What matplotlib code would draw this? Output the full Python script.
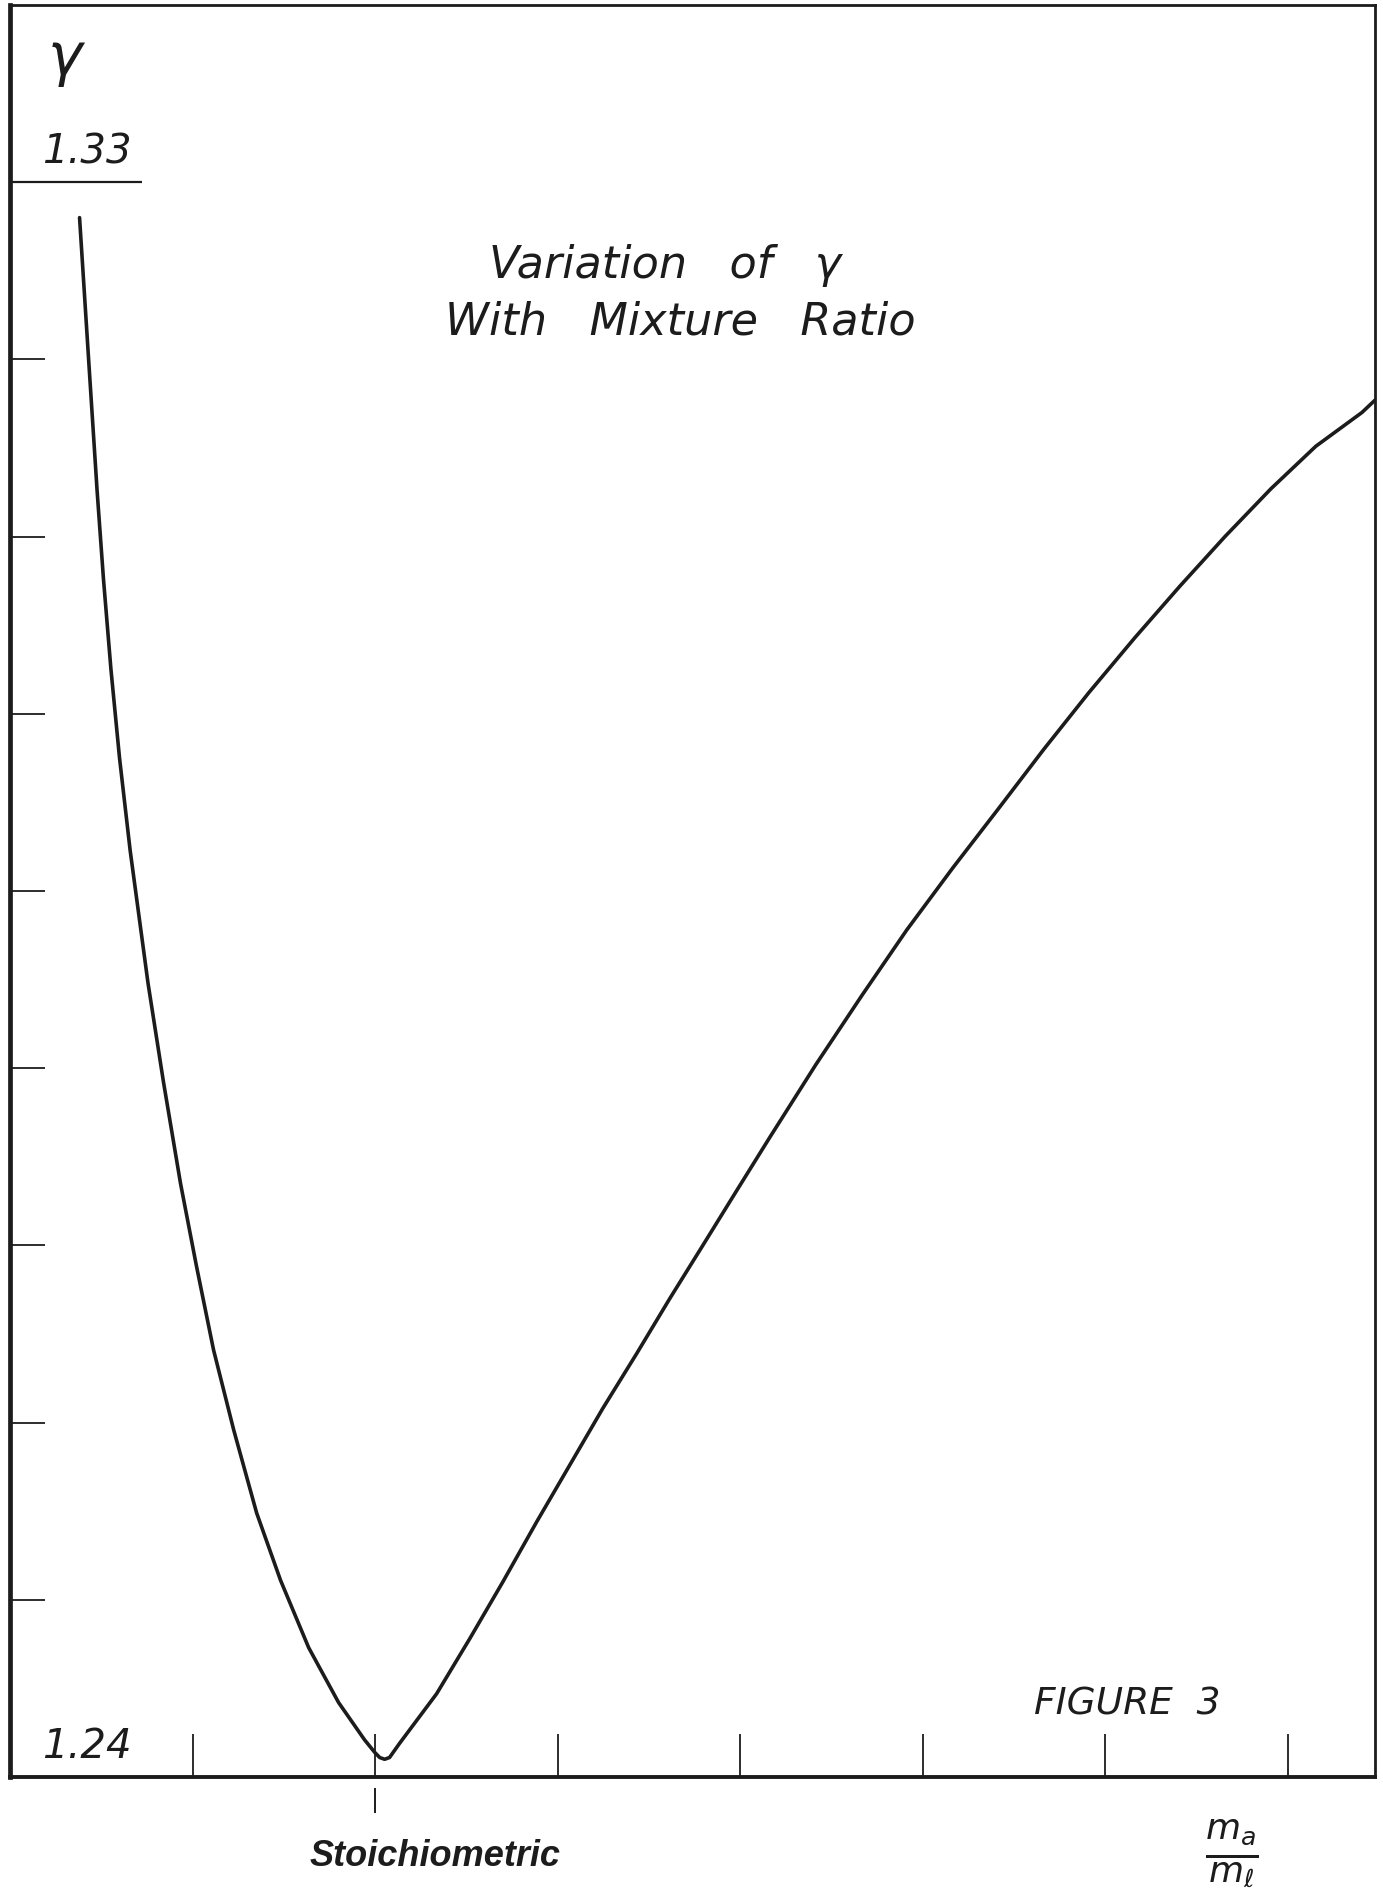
import matplotlib
matplotlib.use("Agg")
import matplotlib.pyplot as plt

# ---- data ----
mixture_ratio = [0.381, 0.430, 0.477, 0.512, 0.553, 0.600, 0.658, 0.756, 0.841, 0.934,
                 1.022, 1.115, 1.225, 1.351, 1.482, 1.636, 1.800, 1.942, 1.997, 2.025,
                 2.052, 2.079, 2.134, 2.337, 2.518, 2.699, 2.885, 3.066, 3.247, 3.433,
                 3.614, 3.795, 3.981, 4.162, 4.414, 4.666, 4.912, 5.164, 5.411, 5.663,
                 5.910, 6.162, 6.408, 6.655, 6.907, 7.153, 7.405, 7.477]
gamma = [1.3280, 1.3201, 1.3126, 1.3076, 1.3025, 1.2975, 1.2923, 1.2848, 1.2792, 1.2735,
         1.2688, 1.2641, 1.2596, 1.2549, 1.2511, 1.2473, 1.2442, 1.2421, 1.2414, 1.2411,
         1.2410, 1.2411, 1.2419, 1.2447, 1.2478, 1.2510, 1.2544, 1.2576, 1.2608, 1.2639,
         1.2670, 1.2700, 1.2731, 1.2761, 1.2802, 1.2841, 1.2878, 1.2913, 1.2946, 1.2980,
         1.3012, 1.3043, 1.3072, 1.3100, 1.3127, 1.3151, 1.3170, 1.3177]

x_ticks = [1, 2, 3, 4, 5, 6, 7]
y_ticks = [1.25, 1.26, 1.27, 1.28, 1.29, 1.30, 1.31, 1.32]
y_top_label = 1.33
y_bottom_label = 1.24
stoichiometric = 2
x_max = 7.477
y_max = 1.340

W, H = 1383, 1891
fig = plt.figure(figsize=(W / 100, H / 100), dpi=100)
fig.patch.set_facecolor("white")
ax = fig.add_axes([10 / W, 1 - 1777 / H, 1365 / W, 1772 / H])

ink = "#1c1c1c"
ax.plot(mixture_ratio, gamma, color=ink, lw=2.6, solid_joinstyle="round",
        solid_capstyle="round")

ax.set_xlim(0, x_max)
ax.set_ylim(y_bottom_label, y_max)

for side, lw in [("left", 3.4), ("bottom", 2.8), ("top", 2.0), ("right", 2.0)]:
    ax.spines[side].set_linewidth(lw)
    ax.spines[side].set_color(ink)

ax.set_xticks(x_ticks)
ax.set_yticks(y_ticks)
ax.set_yticks([y_top_label], minor=True)
ax.set_xticklabels([])
ax.set_yticklabels([])
ax.set_yticklabels([], minor=True)
ax.tick_params(axis="x", which="major", direction="in", length=31, width=1.3, color=ink)
ax.tick_params(axis="y", which="major", direction="in", length=25, width=1.3, color=ink)
ax.tick_params(axis="y", which="minor", direction="in", length=95, width=1.6, color=ink)

# stoichiometric marker below the axis
ax.plot([stoichiometric, stoichiometric], [1.2393, 1.2380], color=ink, lw=1.4,
        clip_on=False)

fam = ["DejaVu Sans"]
ax.text(0.30, 1.3370, "γ", fontsize=42, style="italic", family=fam, color=ink,
        ha="center", va="center")
ax.text(0.42, 1.3317, "1.33", fontsize=29, style="italic", family=fam, color=ink,
        ha="center", va="center")
ax.text(0.42, 1.2417, "1.24", fontsize=29, style="italic", family=fam, color=ink,
        ha="center", va="center")
ax.text(3.59, 1.3253, "Variation   of   γ", fontsize=32, style="italic", family=fam,
        color=ink, ha="center", va="center")
ax.text(3.67, 1.3221, "With   Mixture   Ratio", fontsize=32, style="italic", family=fam,
        color=ink, ha="center", va="center")
ax.text(6.12, 1.2441, "FIGURE  3", fontsize=27, style="italic", family=fam,
        color=ink, ha="center", va="center")
ax.text(stoichiometric + 0.33, 1.2355, "Stoichiometric", fontsize=26, style="italic",
        weight="bold", family=["Liberation Sans", "DejaVu Sans"], color=ink,
        ha="center", va="center")
ax.text(6.69, 1.2357, r"$\frac{m_a}{m_\ell}$", fontsize=37, color=ink,
        ha="center", va="center")

fig.savefig("out.png", dpi=100, facecolor="white")
